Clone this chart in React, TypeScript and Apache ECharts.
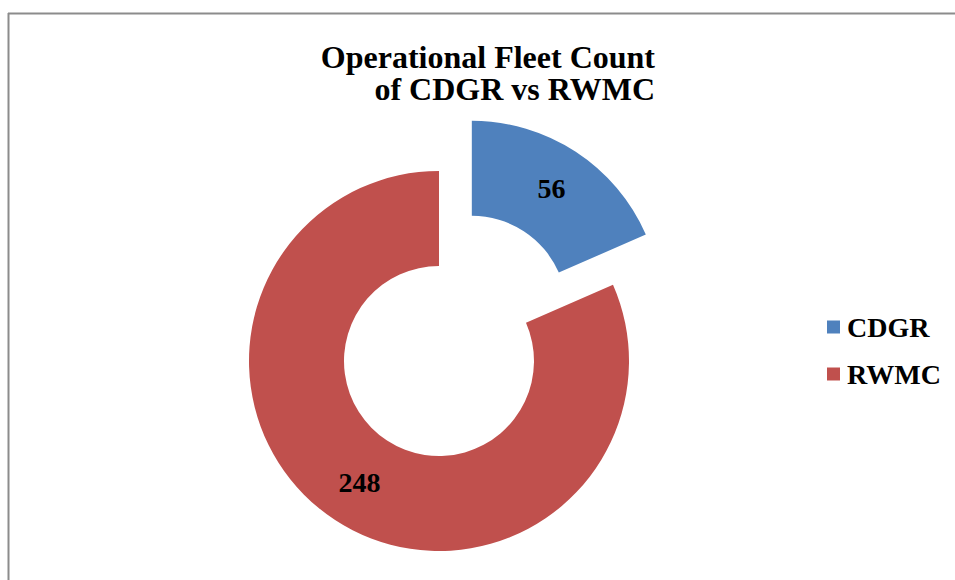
import React, { useEffect, useRef } from "react";
import * as echarts from "echarts";

const categories = ["CDGR", "RWMC"];
const values = [56, 248];
const colors = ["#4F81BD", "#C0504D"];
const titleLines = ["Operational Fleet Count", "of CDGR vs RWMC"];

const FONT = "'Liberation Serif', 'Times New Roman', serif";

export default function App() {
  const ref = useRef<HTMLDivElement>(null);
  useEffect(() => {
    if (!ref.current) return;
    const chart = echarts.init(ref.current, undefined, { renderer: "svg" });
    chart.setOption({
      animation: false,
      backgroundColor: "#ffffff",
      graphic: [
        {
          type: "line",
          shape: { x1: 8.5, y1: 13, x2: 8.5, y2: 580 },
          style: { stroke: "#8c8c8c", lineWidth: 2 },
          silent: true,
        },
        {
          type: "line",
          shape: { x1: 8, y1: 13.5, x2: 955, y2: 13.5 },
          style: { stroke: "#8c8c8c", lineWidth: 2 },
          silent: true,
        },
        ...titleLines.map((t, i) => ({
          type: "text",
          x: 655,
          y: 57 + i * 32,
          style: {
            text: t,
            align: "right",
            verticalAlign: "middle",
            font: `bold 32px ${FONT}`,
            fill: "#000000",
          },
          silent: true,
        })),
      ],
      legend: {
        orient: "vertical",
        left: 827,
        top: 313,
        padding: 0,
        itemWidth: 13,
        itemHeight: 13,
        itemGap: 19,
        icon: "rect",
        data: categories,
        textStyle: {
          fontFamily: FONT,
          fontSize: 28,
          fontWeight: "bold",
          color: "#000000",
          padding: [0, 0, 0, 2],
        },
      },
      series: [
        {
          type: "pie",
          center: [439, 361],
          radius: [95, 190],
          startAngle: 90,
          clockwise: true,
          selectedMode: "single",
          selectedOffset: 60,
          avoidLabelOverlap: false,
          label: {
            show: true,
            position: "inside",
            formatter: "{c}",
            fontFamily: FONT,
            fontSize: 28,
            fontWeight: "bold",
            color: "#000000",
          },
          labelLine: { show: false },
          emphasis: { disabled: true },
          data: categories.map((name, i) => ({
            name,
            value: values[i],
            selected: i === 0,
            itemStyle: { color: colors[i] },
          })),
        },
      ],
    });
    return () => chart.dispose();
  }, []);
  return (
    <div
      ref={ref}
      style={{ position: "fixed", left: 0, top: 0, width: 955, height: 580 }}
    />
  );
}
